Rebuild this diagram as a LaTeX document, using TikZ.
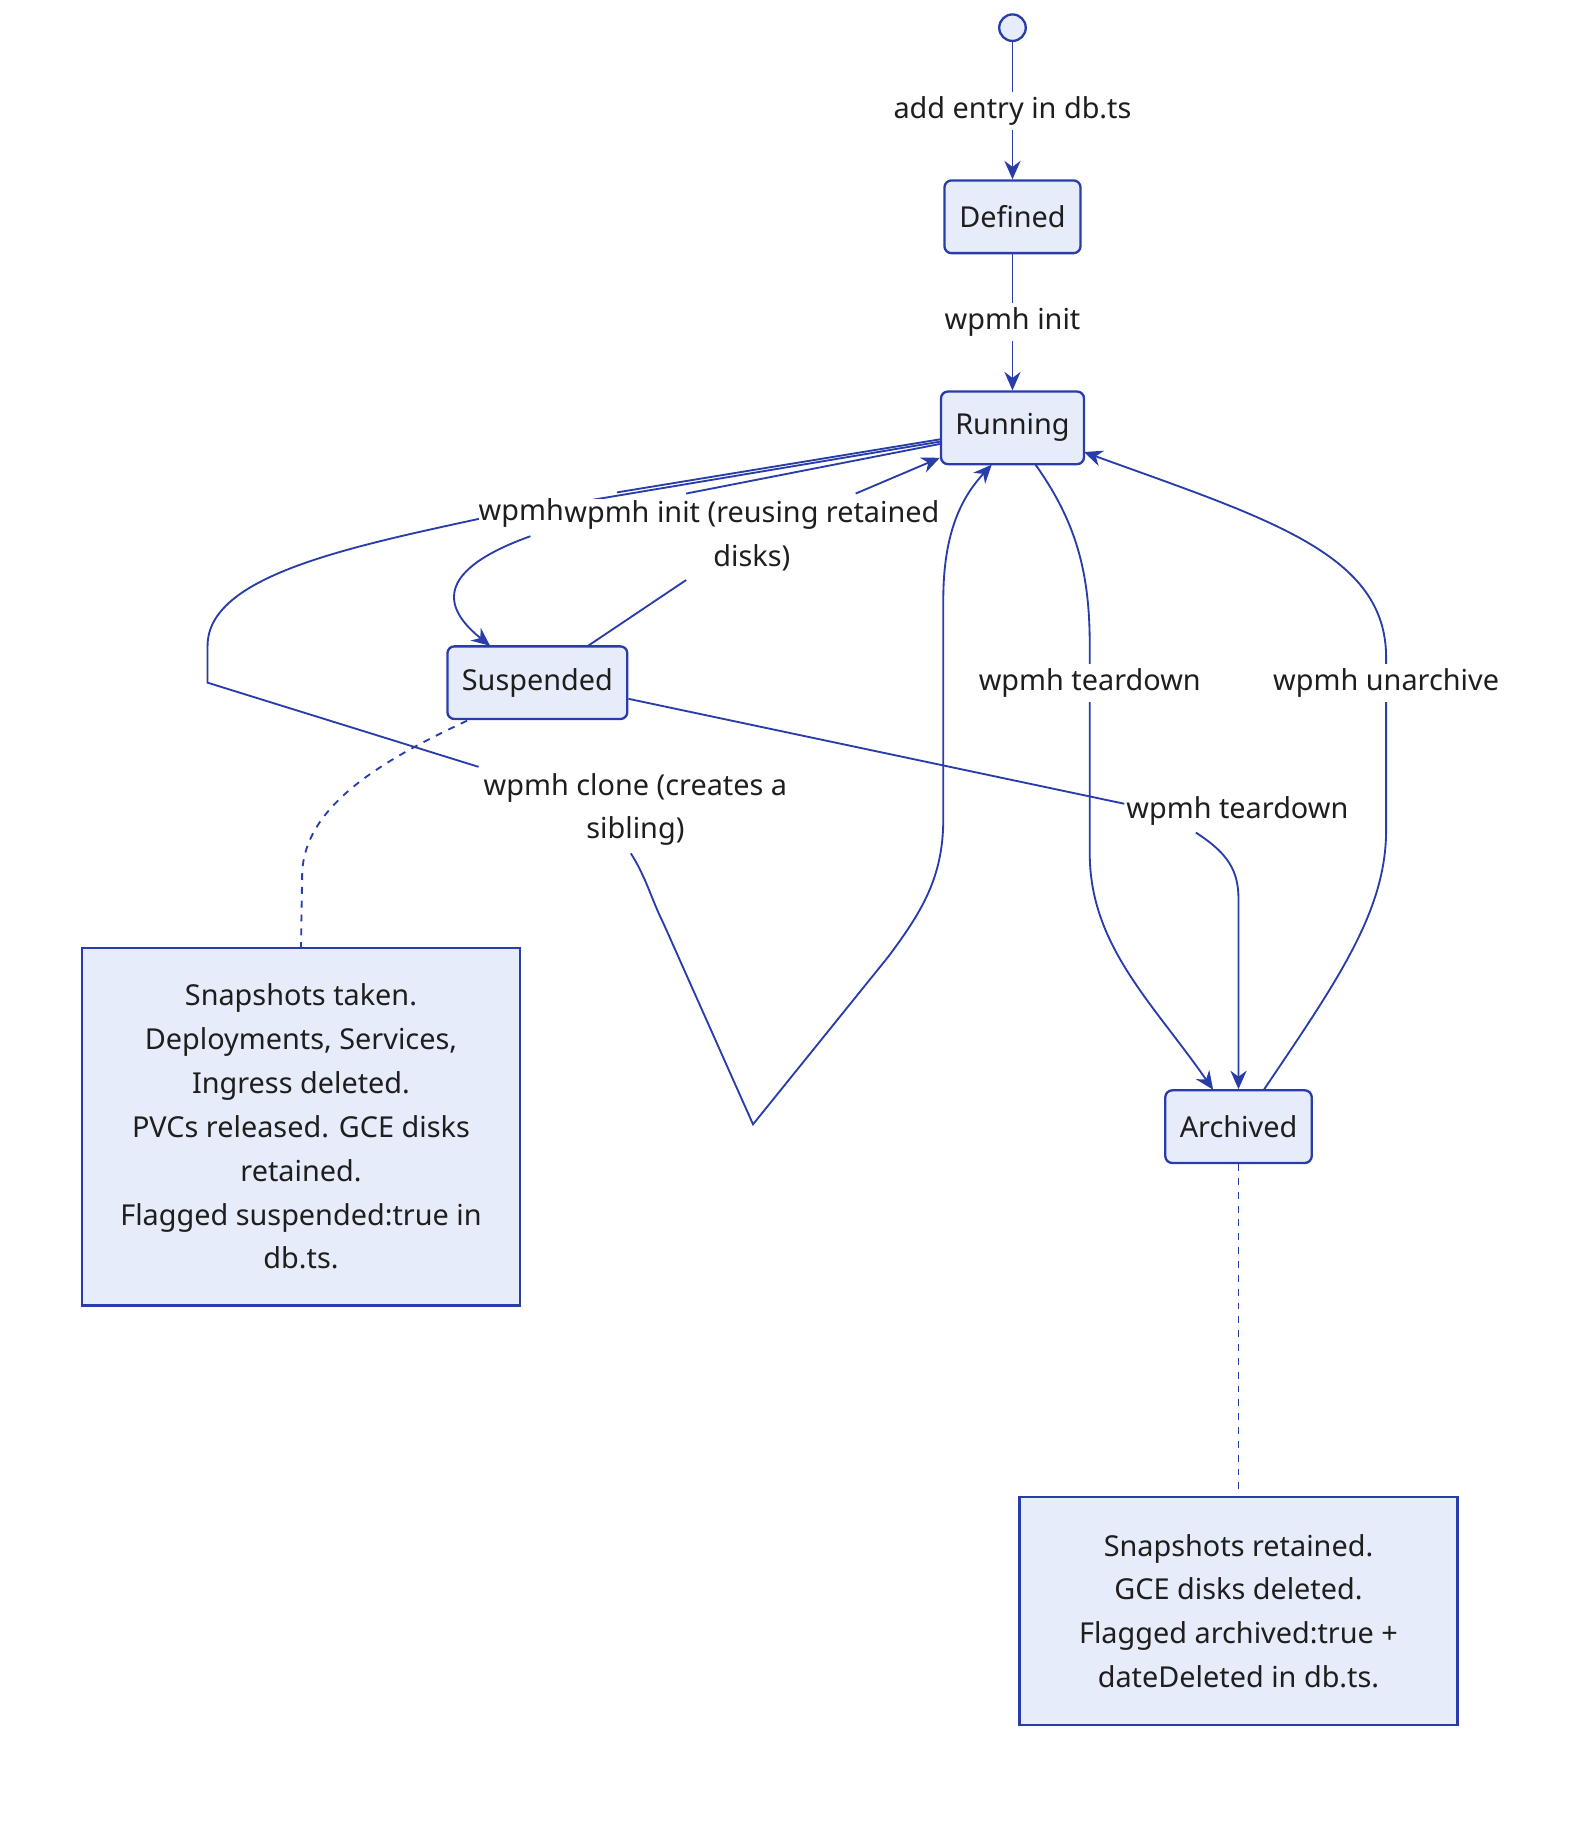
\documentclass[tikz,border=0pt]{standalone}
\usepackage{fontspec}
\setmainfont{Noto Sans}
\usetikzlibrary{arrows.meta}
\definecolor{ln}{RGB}{40,60,170}
\definecolor{bx}{RGB}{230,236,249}
\definecolor{tx}{RGB}{30,30,30}
\begin{document}
\begin{tikzpicture}[x=0.5pt,y=-0.5pt,
  st/.style={draw=ln,fill=bx,rounded corners=3pt,line width=1pt,minimum height=31.5pt,text=tx,font=\fontsize{12.5}{15}\selectfont},
  nt/.style={draw=ln,fill=bx,line width=1pt,text=tx,align=center,font=\fontsize{12.5}{19}\selectfont},
  lb/.style={fill=white,text=tx,align=center,font=\fontsize{12.5}{19}\selectfont,inner sep=2pt},
  ed/.style={draw=ln,line width=0.8pt},
  ar/.style={ed,-{Stealth[length=8pt,width=7pt]}}]
\useasboundingbox (0,0) rectangle (1360,1580);
\node[circle,draw=ln,fill=bx,line width=1pt,minimum size=11.5pt,inner sep=0] (s) at (878,24) {};
\node[st,minimum width=59pt] (def) at (878,188) {Defined};
\node[st,minimum width=62pt] (run) at (878,371) {Running};
\node[st,minimum width=78pt] (sus) at (466,592) {Suspended};
\node[st,minimum width=63.5pt] (arc) at (1074,977) {Archived};
\node[nt,minimum width=190pt,minimum height=155pt] (n1) at (261,977) {Snapshots taken.\\Deployments, Services,\\Ingress deleted.\\PVCs released. GCE disks\\retained.\\Flagged suspended:true in\\db.ts.};
\node[nt,minimum width=190pt,minimum height=99pt] (n2) at (1074,1397) {Snapshots retained.\\GCE disks deleted.\\Flagged archived:true +\\dateDeleted in db.ts.};
% clone loop (drawn first, under labels)
\coordinate (c1) at (415,450);
\draw[ed] (run.west) ++(0,12) -- (c1) .. controls (300,475) and (180,500) .. (180,560) -- (180,592) -- (415,665);
\node[lb] (lclone) at (551,702) {wpmh clone (creates a\\sibling)};
\draw[ar] (547,740) .. controls (560,760) and (565,780) .. (575,800) -- (653,975) -- (770,830) .. controls (800,790) and (818,760) .. (818,710) -- (818,520) .. controls (818,460) and (835,430) .. (860,403);
% running -> suspended
\draw[ed] (run.west) ++(0,10) -- (535,427);
\node[lb,inner sep=0pt] (lw) at (452,445) {wpmh};
\draw[ar] (460,465) .. controls (390,490) and (375,520) .. (425,560);
% suspended -> running
\draw[ed] (510,560) -- (595,503);
\node[lb,inner sep=1pt] (li) at (652,465) {wpmh init (reusing retained\\disks)};
\draw[ed] (595,428) -- (run.west |- 0,385);
\draw[ar] (742,428) -- (815,397);
% start, defined
\draw[ar] (s) -- node[lb] {add entry in db.ts} (def);
\draw[ar] (def) -- node[lb] {wpmh init} (run);
% running -> archived
\draw[ar] (898,403) .. controls (935,455) and (945,500) .. (945,560) -- (945,740) .. controls (945,820) and (1000,870) .. (1052,945);
\node[lb] at (945,592) {wpmh teardown};
% suspended -> archived
\draw[ed] (sus.east) ++(0,14) -- (975,697);
\node[lb,inner sep=0pt] at (1073,703) {wpmh teardown};
\draw[ar] (1037,722) .. controls (1065,740) and (1074,755) .. (1074,780) -- (arc.north);
% archived -> running
\draw[ar] (1096,945) .. controls (1160,850) and (1202,790) .. (1202,720) -- (1202,570) .. controls (1202,480) and (1100,450) .. (940,392);
\node[lb] at (1202,592) {wpmh unarchive};
% notes
\draw[ed,dashed] (405,625) .. controls (330,660) and (262,700) .. (262,760) -- (n1.north);
\draw[ed,dashed] (arc.south) -- (n2.north);
\end{tikzpicture}
\end{document}
